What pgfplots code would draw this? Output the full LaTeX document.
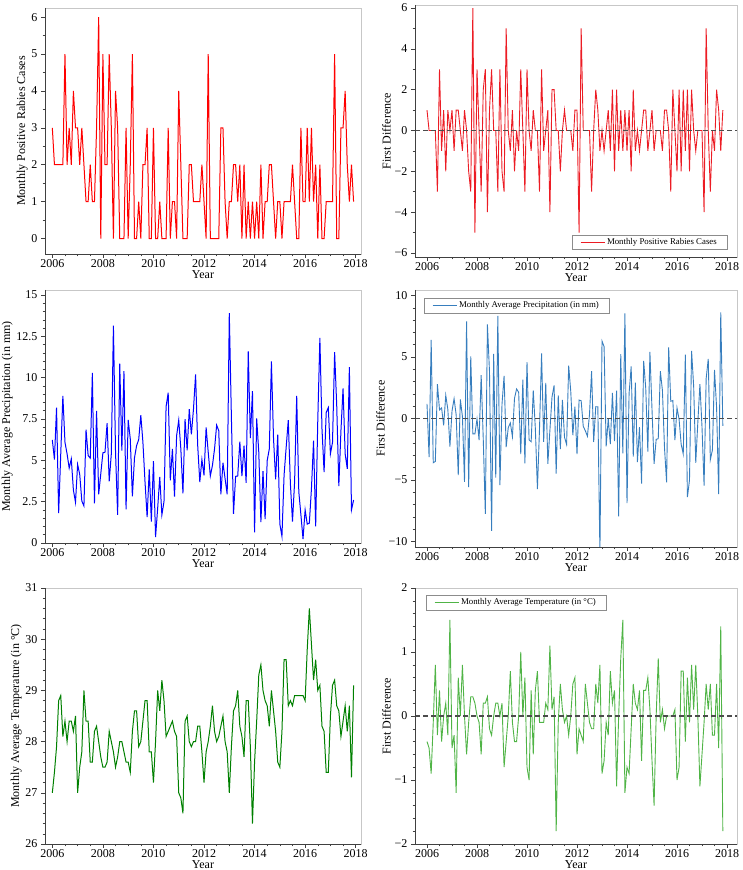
\documentclass[border=0pt]{standalone}
\usepackage{fontspec}
\setmainfont{Liberation Serif}
\usepackage{pgfplots}
\usepackage{pgfplotstable}
\pgfplotsset{compat=1.18}

\pgfplotstableread{
rab pre tem
3 6.23 27.0
2 5.05 27.4
2 8.19 27.9
2 1.80 28.8
2 5.40 28.9
2 8.89 28.1
5 6.09 28.4
2 5.39 28.0
3 4.53 28.4
2 5.09 28.4
4 3.20 28.2
3 2.46 28.5
3 4.75 27.0
2 4.15 27.5
3 2.54 27.8
2 2.24 29.0
1 6.85 28.4
1 5.29 28.4
2 5.13 27.6
1 10.29 27.6
1 2.40 28.2
3 7.99 28.3
6 2.94 28.0
0 4.19 27.7
5 5.45 27.5
2 5.49 27.5
2 7.25 27.6
5 3.73 28.2
3 5.39 28.0
0 13.14 27.8
4 5.49 27.5
3 1.70 27.7
0 10.84 28.0
0 5.59 28.0
0 10.39 27.8
3 2.04 27.6
0 7.45 27.6
2 6.29 27.4
5 2.82 28.2
0 5.15 28.6
0 5.89 28.6
1 6.25 27.9
0 7.73 28.0
2 6.09 28.4
2 3.69 28.8
3 1.56 28.8
0 4.45 27.8
0 1.30 27.8
3 4.95 27.2
0 0.36 28.0
0 2.10 29.0
1 3.99 28.6
0 1.70 29.2
0 2.50 28.8
0 8.25 28.1
3 9.09 28.2
0 3.79 28.3
1 5.69 28.4
1 2.80 28.2
0 6.49 28.1
4 7.43 27.0
2 5.69 26.9
0 3.00 26.6
0 7.49 28.4
0 5.61 28.5
2 8.09 28.0
2 6.57 27.9
1 8.09 28.0
1 10.20 28.0
1 5.90 28.3
1 3.69 28.3
2 5.05 27.8
1 4.09 27.2
0 6.99 27.8
5 5.49 28.0
0 4.05 28.3
0 4.69 28.7
0 5.69 28.2
0 7.13 28.0
0 6.79 28.1
3 2.94 28.3
3 4.85 28.5
1 3.89 28.0
0 2.94 27.8
1 13.90 27.0
1 7.60 27.9
2 1.76 28.6
2 4.03 28.7
1 4.05 29.0
2 6.13 28.3
0 4.05 28.1
2 5.89 27.7
0 3.63 28.8
1 11.58 28.8
0 6.35 27.9
1 9.19 26.4
0 0.64 27.6
1 7.53 28.4
0 5.49 29.3
2 1.26 29.5
0 4.35 29.0
1 1.44 28.8
1 4.99 28.7
2 5.69 28.3
2 10.98 29.0
1 6.29 28.6
0 3.85 28.2
1 6.55 27.6
1 1.14 27.5
0 0.40 28.2
1 4.09 29.6
1 5.79 29.6
1 7.43 28.7
1 3.59 28.8
2 1.30 28.7
1 3.69 28.9
0 8.89 28.9
0 3.10 28.9
3 1.70 28.9
1 0.24 28.9
1 2.00 28.8
3 1.14 29.8
1 1.20 30.6
3 3.30 29.9
1 6.19 29.2
2 1.00 29.6
0 7.40 29.0
2 12.40 29.1
0 6.90 28.3
0 4.29 28.2
1 7.89 27.4
1 8.19 27.4
1 5.39 28.5
1 6.09 29.1
5 11.54 29.2
0 8.29 28.7
0 3.44 28.6
3 6.79 28.1
3 9.35 28.4
4 5.39 28.7
2 4.49 28.2
1 10.63 28.7
2 2.00 27.3
1 2.60 29.1
}\mainT

\pgfplotstableread{
drab dpre dtem
1 1.18 -0.4
0 -3.14 -0.5
0 6.39 -0.9
0 -3.60 -0.1
0 -3.49 0.8
-3 2.80 -0.3
3 0.70 0.4
-1 0.86 -0.4
1 -0.56 0.0
-2 1.89 0.2
1 0.74 -0.3
0 -2.29 1.5
1 0.60 -0.5
-1 1.61 -0.3
1 0.30 -1.2
1 -4.61 0.6
0 1.56 0.0
-1 0.16 0.8
1 -5.16 0.0
0 7.89 -0.6
-2 -5.59 -0.1
-3 5.05 0.3
6 -1.25 0.3
-5 -1.26 0.2
3 -0.04 0.0
0 -1.76 -0.1
-3 3.52 -0.6
2 -1.66 0.2
3 -7.75 0.2
-4 7.65 0.3
1 3.79 -0.2
3 -9.14 -0.3
0 5.25 0.0
0 -4.80 0.2
-3 8.35 0.2
3 -5.41 0.0
-2 1.16 0.2
-3 3.47 -0.8
5 -2.33 -0.4
0 -0.74 0.0
-1 -0.36 0.7
1 -1.48 -0.1
-2 1.64 -0.4
0 2.40 -0.4
-1 2.13 0.0
3 -2.89 1.0
0 3.15 0.0
-3 -3.65 0.6
3 4.59 -0.8
0 -1.74 -1.0
-1 -1.89 0.4
1 2.29 -0.6
0 -0.80 0.4
0 -5.75 0.7
-3 -0.84 -0.1
3 5.30 -0.1
-1 -1.90 -0.1
0 2.89 0.2
1 -3.69 0.1
-4 -0.94 1.1
2 1.74 0.1
2 2.69 0.3
0 -4.49 -1.8
0 1.88 -0.1
-2 -2.48 0.5
0 1.52 0.1
1 -1.52 -0.1
0 -2.11 0.0
0 4.30 -0.3
0 2.21 0.0
-1 -1.36 0.5
1 0.96 0.6
1 -2.90 -0.6
-5 1.50 -0.2
5 1.44 -0.3
0 -0.64 -0.4
0 -1.00 0.5
0 -1.44 0.2
0 0.34 -0.1
-3 3.85 -0.2
0 -1.91 -0.2
2 0.96 0.5
1 0.95 0.2
-1 -10.96 0.8
0 6.30 -0.9
-1 5.84 -0.7
0 -2.27 -0.1
1 -0.02 -0.3
-1 -2.08 0.7
2 2.08 0.2
-2 -1.84 0.4
2 2.26 -1.1
-1 -7.95 0.0
1 5.23 0.9
-1 -2.84 1.5
1 8.55 -1.2
-1 -6.89 -0.8
1 2.04 -0.9
-2 4.23 -0.2
2 -3.09 0.5
-1 2.91 0.2
0 -3.55 0.1
-1 -0.70 0.4
0 -5.29 -0.7
1 4.69 0.4
1 2.44 0.4
-1 -2.70 0.6
0 5.41 0.1
1 0.74 -0.7
-1 -3.69 -1.4
0 -1.70 0.0
0 -1.64 0.9
0 3.84 -0.1
-1 2.29 0.1
1 -2.39 -0.2
1 -5.20 0.0
0 5.79 0.0
-3 1.40 0.0
2 1.46 0.0
0 -1.76 0.1
-2 0.86 -1.0
2 -0.06 -0.8
-2 -2.10 0.7
2 -2.89 0.7
-1 5.19 -0.4
2 -6.40 0.6
-2 -5.00 -0.1
2 5.50 0.8
0 2.61 0.1
-1 -3.60 0.8
0 -0.30 0.0
0 2.80 -1.1
0 -0.70 -0.6
-4 -5.45 -0.1
5 3.25 0.5
0 4.85 0.1
-3 -3.35 0.5
0 -2.56 -0.3
-1 3.96 -0.3
2 0.90 0.5
1 -6.14 -0.5
-1 8.63 1.4
1 -0.60 -1.8
}\diffT

\definecolor{rabred}{RGB}{255,0,0}
\definecolor{dred}{RGB}{236,28,36}
\definecolor{pblue}{RGB}{0,0,255}
\definecolor{dblue}{RGB}{55,126,190}
\definecolor{tgreen}{RGB}{0,128,0}
\definecolor{dgreen}{RGB}{80,180,70}

\pgfplotsset{
  base/.style={
    scale only axis,
    anchor=south west,
    axis line style={black!22, line width=0.7pt},
    tick align=outside,
    tick pos=left,
    major tick length=4pt,
    minor tick length=2.5pt,
    every tick/.style={black!75, line width=0.5pt},
    tick label style={font=\fontsize{12}{14}\selectfont},
    label style={font=\fontsize{12}{14}\selectfont},
    ylabel shift=-3pt,
    xtick={2006,2008,2010,2012,2014,2016,2018},
    xticklabels={2006,2008,2010,2012,2014,2016,2018},
    minor x tick num=3,
    xlabel={Year},
    xlabel style={yshift=4pt},
    xticklabel style={yshift=2pt},
    legend cell align=left,
    legend image code/.code={\draw[#1] (0pt,0pt) -- (24pt,0pt);},
    legend style={font=\fontsize{8.8}{10}\selectfont, draw=black!45, line width=0.5pt,
      inner xsep=8pt, inner ysep=1.5pt},
    after end axis/.append code={
      \draw[black!75, line width=0.7pt] (rel axis cs:0,1) -- (rel axis cs:0,0) -- (rel axis cs:1,0);
    },
  },
  leftcol/.style={base, width=316pt, xmin=2005.71, xmax=2018.21},
  rightcol/.style={base, width=322pt, xmin=2005.52, xmax=2018.4},
}

\begin{document}
\begin{tikzpicture}[x=1pt,y=1pt]
\useasboundingbox (0,0) rectangle (743,870);

% top left
\begin{axis}[leftcol, at={(45pt,616pt)}, height=246pt,
  ymin=-0.42, ymax=6.25, ytick={0,1,2,3,4,5,6}, yticklabels={0,1,2,3,4,5,6},
  minor y tick num=1,
  ylabel={Monthly Positive Rabies Cases}]
\addplot[rabred, line width=1pt] table[x expr=2006+\coordindex/12, y=rab] {\mainT};
\end{axis}

% top right
\begin{axis}[rightcol, at={(415pt,613pt)}, height=252pt,
  ymin=-6.2, ymax=6.15, ytick={-6,-4,-2,0,2,4,6}, yticklabels={−6,−4,−2,0,2,4,6},
  minor y tick num=1,
  ylabel={First Difference},
  legend style={at={(0.969,0.028)}, anchor=south east}]
\addplot[dred, line width=0.9pt] table[x expr=2006+\coordindex/12, y=drab] {\diffT};
\addlegendentry{Monthly Positive Rabies Cases}
\addplot[forget plot, black!70, line width=1.2pt, dash pattern=on 5pt off 3pt] coordinates {(2005.52,0) (2018.4,0)};
\end{axis}

% middle left
\begin{axis}[leftcol, at={(45pt,327pt)}, height=253pt,
  ymin=0, ymax=15.3, ytick={0,2.5,5,7.5,10,12.5,15}, yticklabels={0,2.5,5,7.5,10,12.5,15},
  minor y tick num=4,
  ylabel={Monthly Average Precipitation (in mm)}]
\addplot[pblue, line width=1pt] table[x expr=2006+\coordindex/12, y=pre] {\mainT};
\end{axis}

% middle right
\begin{axis}[rightcol, at={(415pt,323pt)}, height=257pt,
  ymin=-10.45, ymax=10.45, ytick={-10,-5,0,5,10}, yticklabels={−10,−5,0,5,10},
  minor y tick num=4,
  ylabel={First Difference},
  legend style={at={(0.028,0.969)}, anchor=north west}]
\addplot[dblue, line width=0.9pt] table[x expr=2006+\coordindex/12, y=dpre] {\diffT};
\addlegendentry{Monthly Average Precipitation (in mm)}
\addplot[forget plot, black!70, line width=1.2pt, dash pattern=on 5pt off 3pt] coordinates {(2005.52,0) (2018.4,0)};
\end{axis}

% bottom left
\begin{axis}[leftcol, at={(45pt,26pt)}, height=256pt,
  ymin=26, ymax=31, ytick={26,27,28,29,30,31}, yticklabels={26,27,28,29,30,31},
  minor y tick num=4,
  ylabel={Monthly Average Temperature (in °C)}]
\addplot[tgreen, line width=1pt] table[x expr=2006+\coordindex/12, y=tem] {\mainT};
\end{axis}

% bottom right
\begin{axis}[rightcol, at={(415pt,26pt)}, height=256pt,
  ymin=-2, ymax=2, ytick={-2,-1,0,1,2}, yticklabels={−2,−1,0,1,2},
  minor y tick num=4,
  ylabel={First Difference},
  legend style={at={(0.034,0.973)}, anchor=north west}]
\addplot[dgreen, line width=0.9pt] table[x expr=2006+\coordindex/12, y=dtem] {\diffT};
\addlegendentry{Monthly Average Temperature (in °C)}
\addplot[forget plot, black!70, line width=1.2pt, dash pattern=on 5pt off 3pt] coordinates {(2005.52,0) (2018.4,0)};
\end{axis}
\end{tikzpicture}
\end{document}
